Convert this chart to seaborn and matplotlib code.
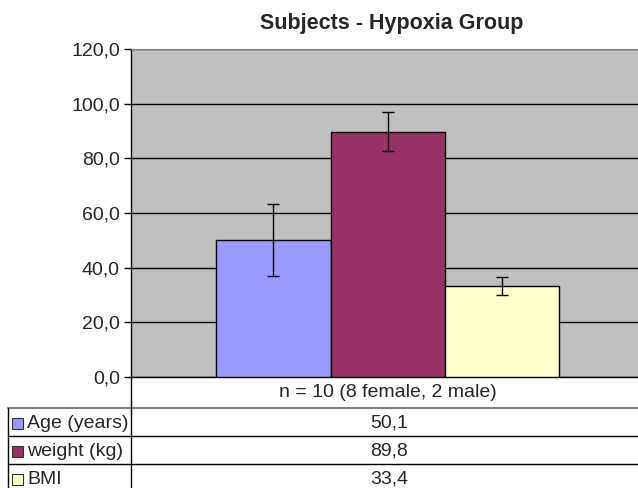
import matplotlib
matplotlib.use("Agg")
import matplotlib.pyplot as plt
import seaborn as sns
import pandas as pd
from matplotlib.lines import Line2D
from matplotlib.patches import Rectangle

# data
group = "n = 10 (8 female, 2 male)"
series = ["Age (years)", "weight (kg)", "BMI"]
means = [50.1, 89.8, 33.4]
errors = [13.1, 7.0, 3.3]
colors = ["#9999FF", "#993366", "#FFFFCC"]
yticks = [0, 20, 40, 60, 80, 100, 120]

df = pd.DataFrame({"group": [group] * 3, "series": series, "value": means})

sns.set_style("white")
plt.rcParams["font.family"] = ["Liberation Sans", "DejaVu Sans"]

W, H = 638, 488
fig = plt.figure(figsize=(W / 100, H / 100), dpi=100)

def fx(x):
    return x / W

def fy(y):
    return 1 - y / H

ax = fig.add_axes([fx(131), fy(377), fx(638) - fx(131), fy(49) - fy(377)])
ax.set_facecolor("#C0C0C0")

sns.barplot(data=df, x="group", y="value", hue="series", hue_order=series,
            palette=colors, saturation=1, width=0.675, edgecolor="black",
            linewidth=1, legend=False, ax=ax, zorder=3)

# error bars on the bar centres
bars = [p for p in ax.patches if p.get_height() > 0]
for p, e in zip(bars, errors):
    ax.errorbar(p.get_x() + p.get_width() / 2, p.get_height(), yerr=e,
                fmt="none", ecolor="black", elinewidth=1, capsize=4,
                capthick=1, zorder=4)

ax.set_ylim(0, 120)
ax.set_xlim(-0.506, 0.494)
ax.set_yticks(yticks)
ax.set_yticklabels([f"{v:.1f}".replace(".", ",") for v in yticks])
ax.yaxis.grid(True, color="black", linewidth=1)
ax.set_axisbelow(True)
ax.tick_params(axis="y", length=5, width=1, color="black", labelsize=14, pad=3, left=True)
ax.tick_params(axis="x", length=0, labelsize=14, pad=5)
ax.set_xlabel("")
ax.set_ylabel("")
for s in ["left", "bottom"]:
    ax.spines[s].set_color("black")
    ax.spines[s].set_linewidth(1)
ax.spines["top"].set_color("#808080")
ax.spines["right"].set_visible(False)

fig.text(fx(392), fy(23), "Subjects - Hypoxia Group", ha="center", va="center",
         fontsize=15.5, fontweight="bold")

# data table under the chart
line_kw = dict(transform=fig.transFigure, color="black", linewidth=1)
fig.add_artist(Line2D([fx(8), fx(638)], [fy(408), fy(408)], **dict(line_kw, color="#808080", linewidth=1.5)))
for y in [436, 464]:
    fig.add_artist(Line2D([fx(8), fx(638)], [fy(y), fy(y)], **line_kw))
fig.add_artist(Line2D([fx(8), fx(8)], [fy(408), fy(488)], **line_kw))
fig.add_artist(Line2D([fx(131), fx(131)], [fy(377), fy(488)], **line_kw))

row_y = [423, 451, 479]
for name, val, col, y in zip(series, means, colors, row_y):
    fig.add_artist(Rectangle((fx(12), fy(y + 5.5)), fx(11), fy(y - 5.5) - fy(y + 5.5),
                             transform=fig.transFigure, facecolor=col,
                             edgecolor="#333333", linewidth=0.8))
    fig.text(fx(27), fy(y), name, ha="left", va="center", fontsize=14)
    fig.text(fx(389), fy(y), f"{val:.1f}".replace(".", ","), ha="center",
             va="center", fontsize=14)

fig.savefig("out.png", dpi=100)
